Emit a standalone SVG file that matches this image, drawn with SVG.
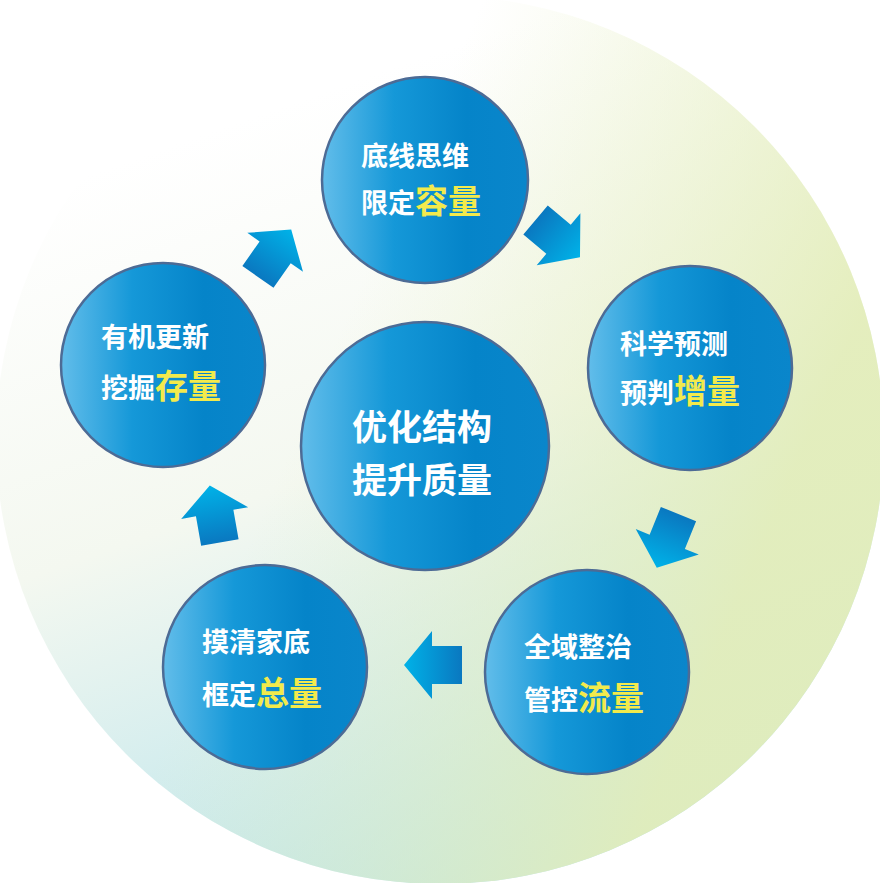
<svg xmlns="http://www.w3.org/2000/svg" width="880" height="883" viewBox="0 0 880 883">
<defs>
<linearGradient id="bg1" x1="0.25" y1="0.15" x2="0.55" y2="1"><stop offset="0" stop-color="#ffffff"/><stop offset="0.45" stop-color="#f4f8f0"/><stop offset="1" stop-color="#b6e3ec"/></linearGradient>
<linearGradient id="bg2" x1="0.3" y1="0" x2="1" y2="0.3"><stop offset="0.3" stop-color="#e8f0c4" stop-opacity="0"/><stop offset="1" stop-color="#e3edb8" stop-opacity="0.9"/></linearGradient>
<linearGradient id="cg" x1="0" y1="0" x2="1" y2="0"><stop offset="0" stop-color="#62bdea"/><stop offset="0.35" stop-color="#1598d8"/><stop offset="0.7" stop-color="#0584c9"/><stop offset="1" stop-color="#0a86cb"/></linearGradient>
<linearGradient id="ag" x1="0" y1="0" x2="1" y2="0"><stop offset="0" stop-color="#0a78c0"/><stop offset="1" stop-color="#00b2e8"/></linearGradient>
<polygon id="arr" points="30,0 2,-34 2,-19 -28,-19 -28,19 2,19 2,34" fill="url(#ag)"/>
</defs>
<style>
.c{fill:url(#cg);stroke:#4d6b95;stroke-width:2.5}
.w{fill:#ffffff;font-family:"Noto Sans CJK SC",sans-serif;font-weight:bold;font-size:27px}
.y{fill:#f2ea4c;font-size:33px}
.big{font-size:35px}
</style>
<circle cx="440" cy="440" r="444" fill="url(#bg1)"/>
<circle cx="440" cy="440" r="444" fill="url(#bg2)"/>
<g id="connectors">
<use href="#arr" transform="translate(274,254) rotate(-55)"/>
<use href="#arr" transform="translate(557,238) rotate(40)"/>
<use href="#arr" transform="translate(668,540) rotate(112)"/>
<use href="#arr" transform="translate(434,665) rotate(180)"/>
<use href="#arr" transform="translate(215,515) rotate(-100)"/>
</g>
<g id="n-top"><circle class="c" cx="425" cy="180" r="103"/><text class="w" x="361" y="166">底线思维</text><text class="w" x="361" y="213">限定<tspan class="y">容量</tspan></text></g>
<g id="n-right"><circle class="c" cx="690" cy="368" r="102"/><text class="w" x="620" y="354">科学预测</text><text class="w" x="620" y="403">预判<tspan class="y">增量</tspan></text></g>
<g id="n-br"><circle class="c" cx="587" cy="672" r="102"/><text class="w" x="524" y="657">全域整治</text><text class="w" x="524" y="710">管控<tspan class="y">流量</tspan></text></g>
<g id="n-bl"><circle class="c" cx="265" cy="667" r="102"/><text class="w" x="202" y="652">摸清家底</text><text class="w" x="202" y="705">框定<tspan class="y">总量</tspan></text></g>
<g id="n-left"><circle class="c" cx="163" cy="365" r="102"/><text class="w" x="101" y="347">有机更新</text><text class="w" x="101" y="398">挖掘<tspan class="y">存量</tspan></text></g>
<g id="n-center"><circle class="c" cx="425" cy="446" r="124"/><text class="w big" x="422" y="440" text-anchor="middle">优化结构</text><text class="w big" x="422" y="493" text-anchor="middle">提升质量</text></g>
</svg>
